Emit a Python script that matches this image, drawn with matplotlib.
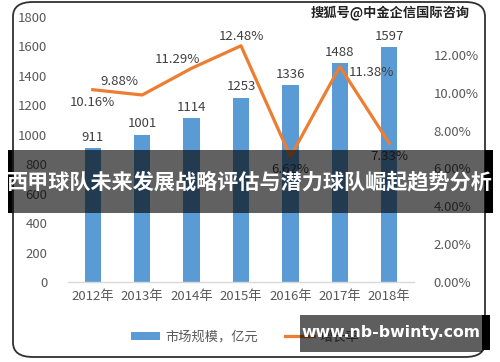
import matplotlib
matplotlib.use("Agg")
import matplotlib.pyplot as plt
from matplotlib.patches import FancyBboxPatch, Rectangle
from matplotlib.lines import Line2D
from matplotlib.patches import Patch

plt.rcParams['font.family'] = ['Noto Sans CJK SC', 'DejaVu Sans']

years = ["2012年", "2013年", "2014年", "2015年", "2016年", "2017年", "2018年"]
market = [911, 1001, 1114, 1253, 1336, 1488, 1597]
growth = [10.16, 9.88, 11.29, 12.48, 6.62, 11.38, 7.33]
growth_labels = ["10.16%", "9.88%", "11.29%", "12.48%", "6.62%", "11.38%", "7.33%"]
left_ticks = [0, 200, 400, 600, 800, 1000, 1200, 1400, 1600, 1800]
right_ticks = [0, 2, 4, 6, 8, 10, 12]

W, H = 500, 362
fig = plt.figure(figsize=(5, 3.62), dpi=100)
fig.patch.set_facecolor("white")

def fx(x): return x / W
def fy(y): return 1 - y / H

# frame
frame = FancyBboxPatch((fx(13), fy(357)), fx(485) - fx(13), fy(2) - fy(357),
                       boxstyle="round,pad=0,rounding_size=0.04",
                       transform=fig.transFigure, facecolor="none",
                       edgecolor="#303030", linewidth=1.3, zorder=-5)
fig.patches.append(frame)

ax = fig.add_axes([fx(68), fy(282), fx(414) - fx(68), fy(17) - fy(282)])
ax.set_zorder(1)
ax.set_facecolor("none")
x = list(range(len(years)))
bars = ax.bar(x, market, width=0.33, color="#5B9BD5", zorder=2)
ax.set_xlim(-0.5, 6.5)
ax.set_ylim(0, 1800)
ax.set_yticks(left_ticks)
ax.set_yticklabels([str(t) for t in left_ticks])
ax.set_xticks(x)
ax.set_xticklabels(years)
for s in ["top", "right", "left"]:
    ax.spines[s].set_visible(False)
ax.spines["bottom"].set_color("#D9D9D9")
ax.spines["bottom"].set_linewidth(1.0)
ax.tick_params(axis="y", length=0, pad=15, labelsize=9.5, labelcolor="#595959")
ax.tick_params(axis="x", length=0, pad=6, labelsize=9.5, labelcolor="#595959")
for xi, v in zip(x, market):
    ax.annotate(str(v), (xi, v), xytext=(0, 3), textcoords="offset points",
                ha="center", va="bottom", fontsize=9.5, color="#404040")

ax2 = ax.twinx()
ax2.set_zorder(2)
ax2.set_facecolor("none")
ax2.set_ylim(0, 14)
ax2.set_yticks(right_ticks)
ax2.set_yticklabels([f"{t:.2f}%" for t in right_ticks])
for s in ["top", "right", "left", "bottom"]:
    ax2.spines[s].set_visible(False)
ax2.tick_params(axis="y", length=0, pad=14, labelsize=9.5, labelcolor="#595959")
ax2.plot(x, growth, color="#ED7D31", linewidth=2.3, zorder=3)
offsets = [(0, -13), (-23, 13), (-14, 9), (0, 9), (0, -13), (32, -6), (0, -13)]
for xi, v, lab, off in zip(x, growth, growth_labels, offsets):
    ax2.annotate(lab, (xi, v), xytext=off, textcoords="offset pixels",
                 ha="center", va="center", fontsize=9.5, color="#404040")

# legend
handles = [Patch(facecolor="#5B9BD5"), Line2D([0], [0], color="#ED7D31", lw=2.3)]
fig.legend(handles, ["市场规模，亿元", "增长率"], loc="center",
           bbox_to_anchor=(fx(245), fy(337)), ncol=2, frameon=False,
           fontsize=9.5, labelcolor="#595959", handlelength=2.2,
           handleheight=0.5, columnspacing=2.0, handletextpad=0.4)

# watermark
fig.text(fx(470), fy(13), "搜狐号@中金企信国际咨询", ha="right", va="center",
         fontsize=9.5, fontweight="bold", color="#222222")

# banner
fig.patches.append(Rectangle((fx(8), fy(213)), fx(493) - fx(8), fy(150) - fy(213),
                             transform=fig.transFigure, facecolor="black",
                             alpha=0.62, zorder=10))
fig.patches.append(Rectangle((fx(8), fy(213)), fx(12) - fx(8), fy(150) - fy(213),
                             transform=fig.transFigure, facecolor="black", zorder=11))
fig.patches.append(Rectangle((fx(485), fy(213)), fx(493) - fx(485), fy(150) - fy(213),
                             transform=fig.transFigure, facecolor="black", zorder=11))
fig.text(0.5, fy(182), "西甲球队未来发展战略评估与潜力球队崛起趋势分析",
         ha="center", va="center", fontsize=15.2, fontweight="bold",
         color="white", zorder=12)

# website box
fig.patches.append(Rectangle((fx(300), fy(352)), fx(482) - fx(300), fy(315) - fy(352),
                             transform=fig.transFigure, facecolor="black",
                             alpha=0.63, zorder=10))
fig.patches.append(Rectangle((fx(482), fy(350)), fx(490) - fx(482), fy(315) - fy(350),
                             transform=fig.transFigure, facecolor="black", zorder=11))
fig.text(fx(391), fy(333), "www.nb-bwinty.com", ha="center", va="center",
         fontsize=11.3, fontweight="bold", color="white", zorder=12,
         family="DejaVu Sans")

fig.savefig("out.png", dpi=100)
